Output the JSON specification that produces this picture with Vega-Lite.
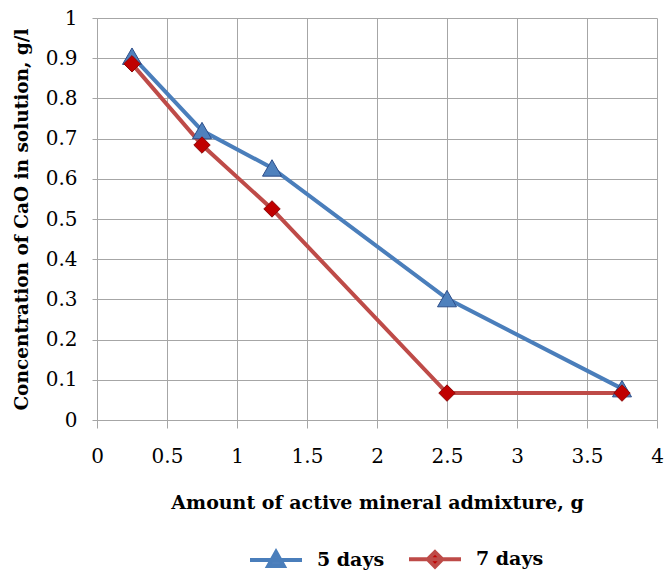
{
  "$schema": "https://vega.github.io/schema/vega-lite/v6.json",
  "width": 560,
  "height": 402,
  "autosize": {"type": "none"},
  "padding": {"left": 97, "top": 18, "right": 8, "bottom": 151},
  "background": "white",
  "config": {
    "view": {"stroke": null},
    "font": "DejaVu Serif",
    "axis": {
      "gridColor": "#a6a6a6",
      "domainColor": "#a6a6a6",
      "tickColor": "#a6a6a6",
      "gridOpacity": 1,
      "labelFont": "DejaVu Serif",
      "labelFontSize": 20,
      "labelColor": "black",
      "titleFont": "DejaVu Serif",
      "titleFontSize": 19,
      "titleFontWeight": "bold",
      "titleColor": "black",
      "labelFlush": false,
      "labelOverlap": false
    }
  },
  "data": {
    "values": [
      {"x": 0.25, "y": 0.905, "series": "5 days"},
      {"x": 0.75, "y": 0.72, "series": "5 days"},
      {"x": 1.25, "y": 0.627, "series": "5 days"},
      {"x": 2.5, "y": 0.302, "series": "5 days"},
      {"x": 3.75, "y": 0.078, "series": "5 days"},
      {"x": 0.25, "y": 0.886, "series": "7 days"},
      {"x": 0.75, "y": 0.684, "series": "7 days"},
      {"x": 1.25, "y": 0.525, "series": "7 days"},
      {"x": 2.5, "y": 0.067, "series": "7 days"},
      {"x": 3.75, "y": 0.067, "series": "7 days"}
    ]
  },
  "encoding": {
    "x": {
      "field": "x",
      "type": "quantitative",
      "scale": {"domain": [0, 4], "nice": false},
      "axis": {
        "values": [0, 0.5, 1, 1.5, 2, 2.5, 3, 3.5, 4],
        "format": "~g",
        "grid": true,
        "tickSize": 8,
        "labelPadding": 18,
        "title": "Amount of active mineral admixture, g",
        "titlePadding": 27
      }
    },
    "y": {
      "field": "y",
      "type": "quantitative",
      "scale": {"domain": [0, 1], "nice": false},
      "axis": {
        "values": [0, 0.1, 0.2, 0.3, 0.4, 0.5, 0.6, 0.7, 0.8, 0.9, 1],
        "format": "~g",
        "grid": true,
        "tickSize": 5,
        "labelPadding": 15,
        "title": "Concentration of CaO in solution, g/l",
        "titleFontSize": 18.5,
        "titlePadding": 14
      }
    }
  },
  "layer": [
    {
      "mark": {"type": "line", "strokeWidth": 4},
      "encoding": {
        "color": {
          "field": "series",
          "type": "nominal",
          "scale": {"domain": ["5 days", "7 days"], "range": ["#4a7ebb", "#be4b48"]},
          "legend": {
            "orient": "none",
            "legendX": 151,
            "legendY": 513,
            "direction": "horizontal",
            "title": null,
            "symbolSize": 2704,
            "symbolStrokeWidth": 4,
            "labelFont": "DejaVu Serif",
            "labelFontSize": 19,
            "labelFontWeight": "bold",
            "labelColor": "black",
            "labelOffset": 13,
            "columnPadding": 16,
            "padding": 0,
            "encode": {
              "symbols": {
                "update": {
                  "shape": {"signal": "datum.value === '5 days' ? 'M-1,0H1M0,-0.3L0.3,0.24H-0.3Z' : 'M-1,0H1M0,-0.28L0.28,0L0,0.28L-0.28,0Z'"},
                  "fill": {"signal": "datum.value === '5 days' ? '#4f81bd' : '#c00000'"}
                }
              }
            }
          }
        }
      }
    },
    {
      "transform": [{"filter": "datum.series === '5 days'"}],
      "mark": {"type": "point", "shape": "triangle-up", "filled": true, "opacity": 1, "size": 360, "fill": "#4f81bd", "stroke": "#2c4d8a", "strokeWidth": 1}
    },
    {
      "transform": [{"filter": "datum.series === '7 days'"}],
      "mark": {"type": "point", "shape": "diamond", "filled": true, "opacity": 1, "size": 270, "fill": "#c00000", "stroke": "#8b0a0a", "strokeWidth": 1}
    }
  ]
}
